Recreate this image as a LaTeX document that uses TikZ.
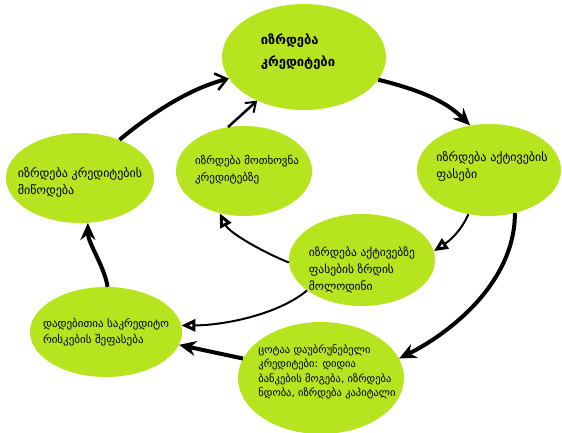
\documentclass[tikz,border=0pt]{standalone}
\usepackage{fontspec}
\setmainfont{DejaVu Sans}
\usetikzlibrary{arrows.meta,shapes.geometric}
\definecolor{lime}{RGB}{182,228,30}
\tikzset{
  bub/.style={ellipse, fill=lime, draw=none, inner sep=0pt},
  btext/.style={inner sep=0pt, align=left, font=\fontsize{11.5}{17}\selectfont},
  thick arr/.style={line width=4pt, -{Stealth[length=17pt,width=15pt]}},
  thin arr/.style={line width=2pt, -{Triangle[open,length=14pt,width=12pt,line width=3pt]}},
  barb arr/.style={line width=4pt, -{Straight Barb[length=11pt,width=17pt,line width=2.5pt]}},
}
\begin{document}
\begin{tikzpicture}[x=1pt,y=-1pt]
\useasboundingbox (0,0) rectangle (562,433);
\node[bub, minimum width=164, minimum height=106] (n1) at (304,57) {};
\node[bub, minimum width=144, minimum height=92] (n2) at (489,170) {};
\node[bub, minimum width=148, minimum height=90] (n3) at (80,178) {};
\node[bub, minimum width=136, minimum height=90] (n4) at (244,171) {};
\node[bub, minimum width=146, minimum height=92] (n5) at (362,260) {};
\node[bub, minimum width=152, minimum height=90] (n6) at (106,332) {};
\node[bub, minimum width=166, minimum height=112] (n7) at (321,378) {};

\node[btext, font=\fontsize{13}{22}\selectfont\bfseries] (t1) at (298,52) {იზრდება\\კრედიტები};
\node[btext, font=\fontsize{12}{17}\selectfont] (t2) at (492,166) {იზრდება აქტივების\\ფასები};
\node[btext, font=\fontsize{12}{17}\selectfont] (t3) at (80,182) {იზრდება კრედიტების\\მიწოდება};
\node[btext, font=\fontsize{11}{17}\selectfont] (t4) at (247,170) {იზრდება მოთხოვნა\\კრედიტებზე};
\node[btext] (t5) at (362,270) {იზრდება აქტივებზე\\ფასების ზრდის\\მოლოდინი};
\node[btext, font=\fontsize{11}{16}\selectfont] (t6) at (106,332) {დადებითია საკრედიტო\\რისკების შეფასება};
\node[btext, font=\fontsize{10.5}{14.5}\selectfont] (t7) at (327,372) {ცოტაა დაუბრუნებელი\\კრედიტები: დიდია\\ბანკების მოგება, იზრდება\\ნდობა, იზრდება კაპიტალი};

\draw[thick arr] (n1.-17) .. controls +(40,10) and +(-25,-25) .. (n2.113);
\draw[thin arr] (n2.245) .. controls +(-8,18) and +(15,-10) .. (n5.7);
\draw[thick arr] (n2.-59) .. controls +(0,70) and +(50,-25) .. (n7.14);
\draw[thick arr] (n7.166) -- (n6.-10);
\draw[thin arr] (n5.209) .. controls +(-30,25) and +(40,0) .. (n6.5);
\draw[thin arr] (n5.182) .. controls +(-25,-10) and +(10,20) .. (n4.240);
\draw[thick arr] (n6.88) .. controls +(-3,-20) and +(0,20) .. (n3.-80);
\draw[barb arr] (n3.44) .. controls +(30,-25) and +(-40,10) .. (n1.196);
\draw[line width=2.5pt, -{Straight Barb[length=9pt,width=13pt,line width=2pt]}] (n4.110) -- (n1.223);
\end{tikzpicture}
\end{document}
